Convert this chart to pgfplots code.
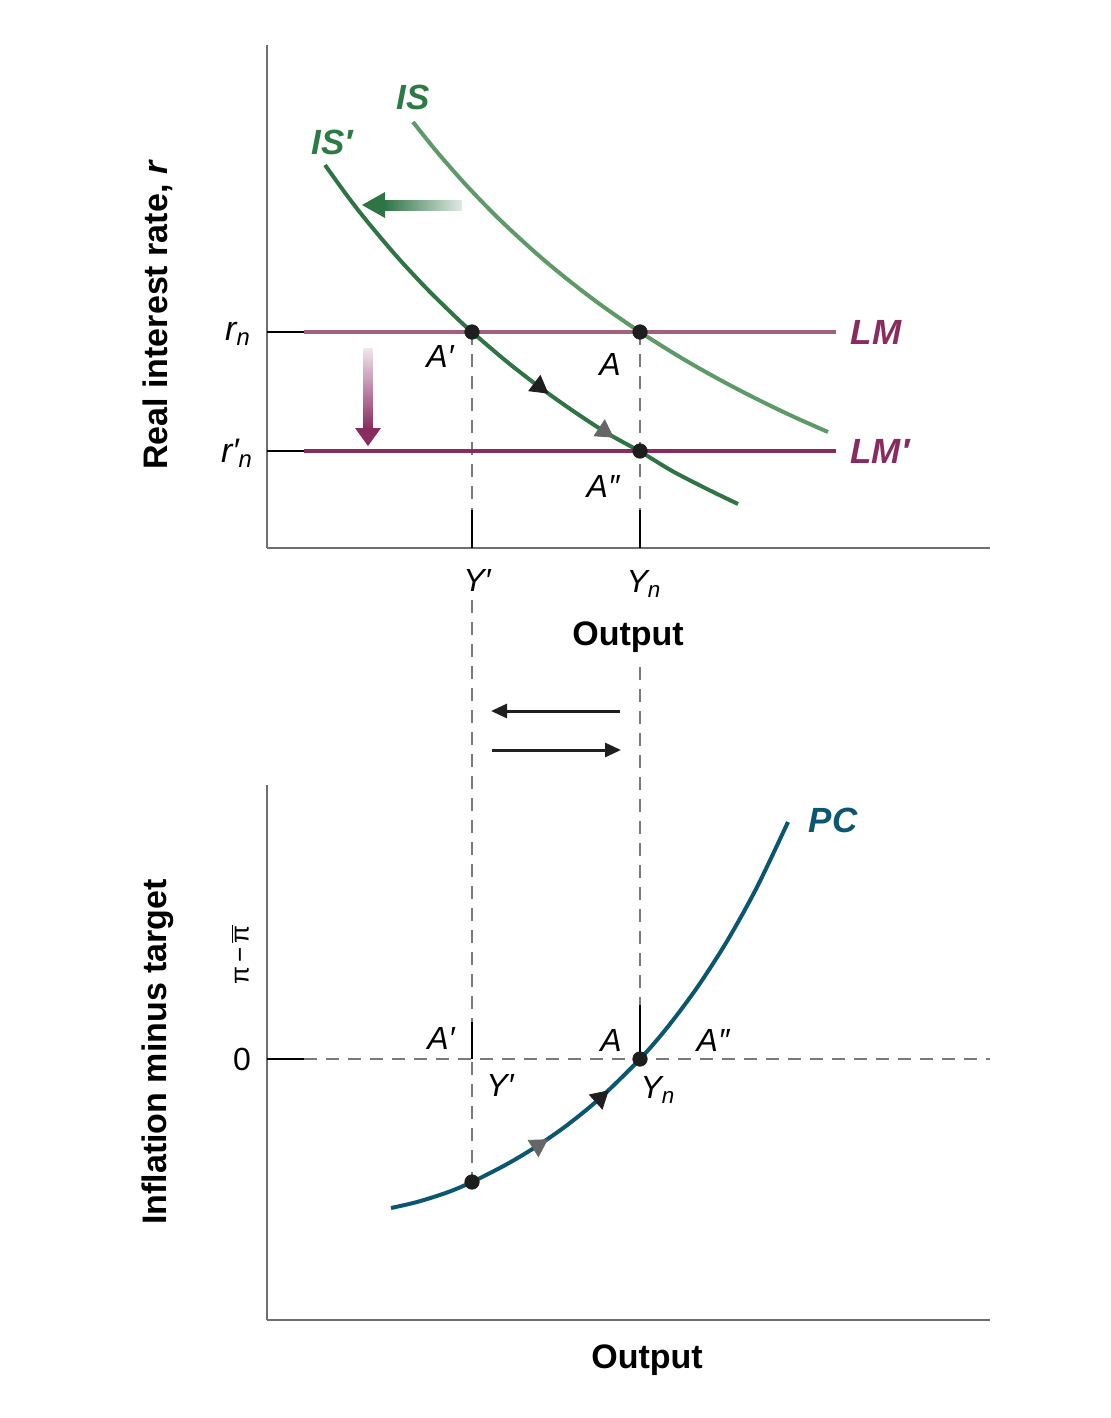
\documentclass[border=0pt]{standalone}
\usepackage{pgfplots}
\pgfplotsset{compat=1.18}
\usepackage{fontspec}
\setmainfont{Liberation Sans}
\usetikzlibrary{arrows.meta}
\definecolor{isdark}{HTML}{2E7445}
\definecolor{islight}{HTML}{5E9968}
\definecolor{isgreenlab}{HTML}{2E7A47}
\definecolor{lmlight}{HTML}{A5607F}
\definecolor{lmdark}{HTML}{8A2B60}
\definecolor{pccol}{HTML}{0B5670}
\definecolor{axisgray}{HTML}{6E6E6E}
\definecolor{dashgray}{HTML}{7A7A7A}
\definecolor{dotcol}{HTML}{1E1E1E}
\newcommand\lab{\fontsize{17}{20}\selectfont\bfseries}
\newcommand\clab{\fontsize{17.5}{20}\selectfont\bfseries\itshape}
\newcommand\ptl{\fontsize{16}{18}\selectfont\itshape}
\pgfplotsset{
  panel/.style={scale only axis, width=361.5pt, xmin=0, xmax=723,
    axis lines=left, axis line style={-, draw=axisgray, line width=1pt},
    xtick=\empty, ytick=\empty, clip=false},
  dsh/.style={dashgray, line width=1pt, dash pattern=on 6.5pt off 4.5pt},
  tk/.style={black, line width=1pt},
  dot/.style={only marks, mark=*, mark size=3.6pt, dotcol, mark options={draw=dotcol, fill=dotcol}},
}
\begin{document}
\begin{tikzpicture}
\path[use as bounding box] (0,0) rectangle (555pt,-709pt);
% ---------------- top panel ----------------
\begin{axis}[panel, at={(133.5pt,-274pt)}, anchor=south west,
  height=251.5pt, ymin=0, ymax=503]
% dashed verticals
\addplot[dsh] coordinates {(205,216) (205,38)};
\addplot[dsh] coordinates {(373,216) (373,38)};
\addplot[tk] coordinates {(205,38) (205,0)};
\addplot[tk] coordinates {(373,38) (373,0)};
% LM lines
\addplot[lmlight, line width=2pt] coordinates {(37,216) (569,216)};
\addplot[lmdark, line width=2pt] coordinates {(37,97) (569,97)};
\addplot[tk, line width=1.4pt] coordinates {(0,216) (37,216)};
\addplot[tk, line width=1.4pt] coordinates {(0,97) (37,97)};
% IS curves
\addplot[islight, line width=2pt, smooth] coordinates {(146,426.0) (170,396.1) (200,362.0) (233,328.1) (270,294.0) (300,269.0) (333,243.7) (373,216.0) (410,192.7) (440,175.3) (470,159.1) (500,143.9) (530,129.7) (561,116.0)};
\addplot[isdark, line width=2pt, smooth] coordinates {(58,383.0) (80,352.5) (100,326.8) (130,291.3) (160,259.1) (190,229.7) (205,216.0) (240,186.2) (273,160.6) (305,137.8) (340,114.9) (373,96.5) (405,77.1) (440,59.0) (471,44.0)};
% arrowheads on IS'
\addplot[only marks, mark=triangle*, mark size=5.5pt, mark options={rotate=-127, fill=black!88, draw=black!88}] coordinates {(272,161.5)};
\addplot[only marks, mark=triangle*, mark size=5.5pt, mark options={rotate=-124, fill=black!60, draw=black!60}] coordinates {(337,117)};
% points
\addplot[dot] coordinates {(205,216) (373,216) (373,97)};
% shift arrow (IS)
\shade[left color=isdark, right color=isdark!15] (axis cs:117,338) rectangle (axis cs:195,348);
\fill[isdark] (axis cs:95,343) -- (axis cs:118,356) -- (axis cs:118,330) -- cycle;
% shift arrow (LM)
\shade[top color=lmdark!12, bottom color=lmdark] (axis cs:96.5,200) rectangle (axis cs:105.5,119);
\fill[lmdark] (axis cs:88,120) -- (axis cs:114,120) -- (axis cs:101,102) -- cycle;
% labels
\node[isgreenlab] at (axis cs:146,451) {\clab IS};
\node[isgreenlab] at (axis cs:65,406) {\clab IS′};
\node[lmdark] at (axis cs:609,216) {\clab LM};
\node[lmdark] at (axis cs:613,97) {\clab LM′};
\node at (axis cs:-29,214) {\fontsize{17}{18}\selectfont\itshape r\textsubscript{n}};
\node at (axis cs:-30,95) {\fontsize{17}{18}\selectfont\itshape r′\textsubscript{n}};
\node at (axis cs:173,192) {\ptl A′};
\node at (axis cs:343,184) {\ptl A};
\node at (axis cs:336,62) {\ptl A″};
\node at (axis cs:210,-32) {\ptl Y′};
\node at (axis cs:377,-36) {\ptl Y\textsubscript{n}};
\node at (axis cs:361,-89) {\lab Output};
\node[rotate=90] at (axis cs:-109,233) {\lab Real interest rate, \textit{r}};
% arrows between panels
\draw[black!88, line width=1.5pt, -{Triangle[length=8pt,width=7pt]}] (axis cs:353,-163) -- (axis cs:224,-163);
\draw[black!88, line width=1.5pt, -{Triangle[length=8pt,width=7pt]}] (axis cs:225,-202) -- (axis cs:354,-202);
\end{axis}
% ---------------- bottom panel ----------------
\begin{axis}[panel, at={(133.5pt,-660pt)}, anchor=south west,
  height=267.5pt, ymin=-261, ymax=274]
\addplot[dsh] coordinates {(205,459) (205,-123)};
\addplot[dsh] coordinates {(373,392) (373,0)};
\addplot[dsh] coordinates {(37,0) (723,0)};
\addplot[tk, line width=1.4pt] coordinates {(0,0) (37,0)};
\addplot[tk] coordinates {(205,37) (205,0)};
\addplot[tk] coordinates {(373,54) (373,0)};
% PC curve
\addplot[pccol, line width=2pt, smooth] coordinates {(124,-149) (150,-143) (180,-133.5) (205,-123) (240,-105.1) (270,-87.1) (300,-66.2) (333,-39.2) (373,0) (400,31.2) (430,71.3) (460,117.8) (490,171.9) (521,237)};
% arrowheads
\addplot[only marks, mark=triangle*, mark size=5.5pt, mark options={rotate=-58, fill=black!60, draw=black!60}] coordinates {(271,-86.5)};
\addplot[only marks, mark=triangle*, mark size=5.5pt, mark options={rotate=-48, fill=black!88, draw=black!88}] coordinates {(333,-39.2)};
\addplot[dot] coordinates {(205,-123) (373,0)};
% labels
\node[pccol] at (axis cs:566,239) {\clab PC};
\node at (axis cs:174,21) {\ptl A′};
\node at (axis cs:233,-26) {\ptl Y′};
\node at (axis cs:344,19) {\ptl A};
\node at (axis cs:391,-31) {\ptl Y\textsubscript{n}};
\node at (axis cs:446,19) {\ptl A″};
\node at (axis cs:-25,0) {\fontsize{16}{18}\selectfont 0};
\node at (axis cs:380,-301) {\lab Output};
\node[rotate=90] at (axis cs:-109,7) {\lab Inflation minus target};
\node[rotate=90] at (axis cs:-27,104) {\fontsize{13}{15}\selectfont π\,−\,$\overline{\mbox{π}}$};
\end{axis}
\end{tikzpicture}
\end{document}
